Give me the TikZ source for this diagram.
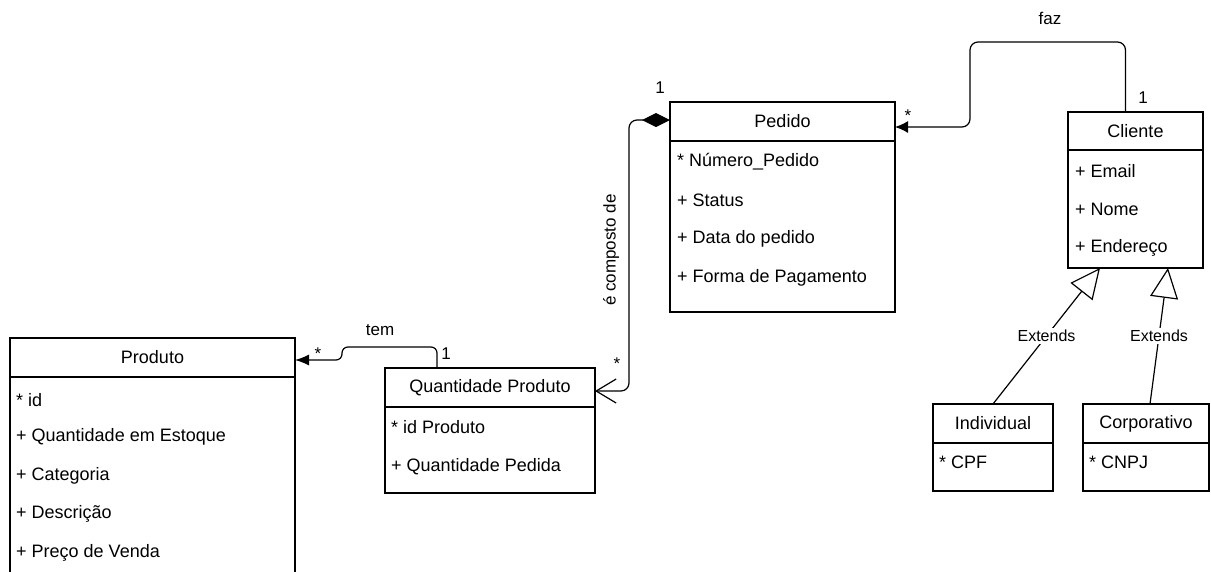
\documentclass[tikz,border=0pt]{standalone}
\usepackage{fontspec}
\setmainfont{Liberation Sans}
\usetikzlibrary{positioning}
\usetikzlibrary{arrows.meta}

\tikzset{
  classhead/.style={draw, line width=1.2pt, inner sep=0pt, outer sep=0pt, font=\fontsize{18}{20}\selectfont},
  classbody/.style={draw, line width=1.2pt, inner sep=0pt, outer sep=0pt},
  attr/.style={anchor=west, inner sep=0pt, font=\fontsize{18}{20}\selectfont},
  lbl/.style={inner sep=0pt, font=\fontsize{17}{19}\selectfont},
  assoc/.style={line width=1.2pt, rounded corners=8pt},
  gen/.style={line width=1.2pt, -{Triangle[open, length=30pt, width=28pt, fill=white]}},
}

\begin{document}
\begin{tikzpicture}[x=1pt,y=-1pt]
\clip (0,0) rectangle (1211,571);

\node[classhead, minimum width=225, minimum height=39] (pedido) at (782.5,121.5) {Pedido};
\node[classbody, minimum width=225, minimum height=171, below=0pt of pedido] (pedidobody) {};
\node[attr] (numero) at (677,162) {* Número\_Pedido};
\node[attr] (status) at (677,200) {+ Status};
\node[attr] (data) at (677,239) {+ Data do pedido};
\node[attr] (forma) at (677,278) {+ Forma de Pagamento};

\node[classhead, minimum width=135, minimum height=38] (cliente) at (1135.5,131) {Cliente};
\node[classbody, minimum width=135, minimum height=118, below=0pt of cliente] (clientebody) {};
\node[attr] (email) at (1075,171) {+ Email};
\node[attr] (nome) at (1075,209) {+ Nome};
\node[attr] (endereco) at (1075,248) {+ Endereço};

\node[classhead, minimum width=285, minimum height=39] (produto) at (152.5,357.5) {Produto};
\node[classbody, minimum width=285, minimum height=240, below=0pt of produto] (produtobody) {};
\node[attr] (id) at (16,400) {* id};
\node[attr] (estoque) at (16,437) {+ Quantidade em Estoque};
\node[attr] (categoria) at (16,476) {+ Categoria};
\node[attr] (descricao) at (16,514) {+ Descrição};
\node[attr] (preco) at (16,553) {+ Preço de Venda};

\node[classhead, minimum width=210, minimum height=39] (qtd) at (490,387.5) {Quantidade Produto};
\node[classbody, minimum width=210, minimum height=86, below=0pt of qtd] (qtdbody) {};
\node[attr] (idproduto) at (391,427) {* id Produto};
\node[attr] (pedida) at (391,467) {+ Quantidade Pedida};

\node[classhead, minimum width=120, minimum height=39] (indiv) at (993,423.5) {Individual};
\node[classbody, minimum width=120, minimum height=48, below=0pt of indiv] (indivbody) {};
\node[attr] (cpf) at (939,462) {* CPF};

\node[classhead, minimum width=126, minimum height=39] (corp) at (1146,423.5) {Corporativo};
\node[classbody, minimum width=126, minimum height=48, below=0pt of corp] (corpbody) {};
\node[attr] (cnpj) at (1089,462) {* CNPJ};

\draw[assoc, -{Latex[length=13pt,width=12pt]}] ([xshift=-10pt]cliente.north) |- (970,42) |- ([yshift=-5.5pt]pedido.east);
\node[lbl] (fazlbl) at (1050,18) {faz};
\node[lbl] (fazmany) at (908,116) {*};
\node[lbl] (fazone) at (1143,98) {1};

\draw[assoc, {Diamond[length=28pt,width=14pt]}-{Straight Barb[length=20pt,width=24pt]}] ([yshift=1.5pt]pedido.west) -| (629,391) -- ([yshift=-3.5pt]qtd.east);
\node[lbl] (compone) at (660,88) {1};
\node[lbl] (compmany) at (617,364) {*};
\node[lbl, rotate=90] (complbl) at (611,250) {é composto de};

\draw[assoc, rounded corners=6pt, -{Latex[length=14pt,width=11pt]}] ([xshift=-53pt]qtd.north) |- (342,347) |- ([yshift=-2.5pt]produto.east);
\node[lbl] (temlbl) at (380,330) {tem};
\node[lbl] (temmany) at (318,354) {*};
\node[lbl] (temone) at (446,354) {1};

\draw[gen] (indiv.north) -- node[lbl, fill=white, inner sep=2pt, font=\fontsize{16}{18}\selectfont] {Extends} ([xshift=-35.5pt]clientebody.south);
\draw[gen] ([xshift=4pt]corp.north) -- node[lbl, fill=white, inner sep=2pt, font=\fontsize{16}{18}\selectfont] {Extends} ([xshift=32.5pt]clientebody.south);
\end{tikzpicture}
\end{document}
